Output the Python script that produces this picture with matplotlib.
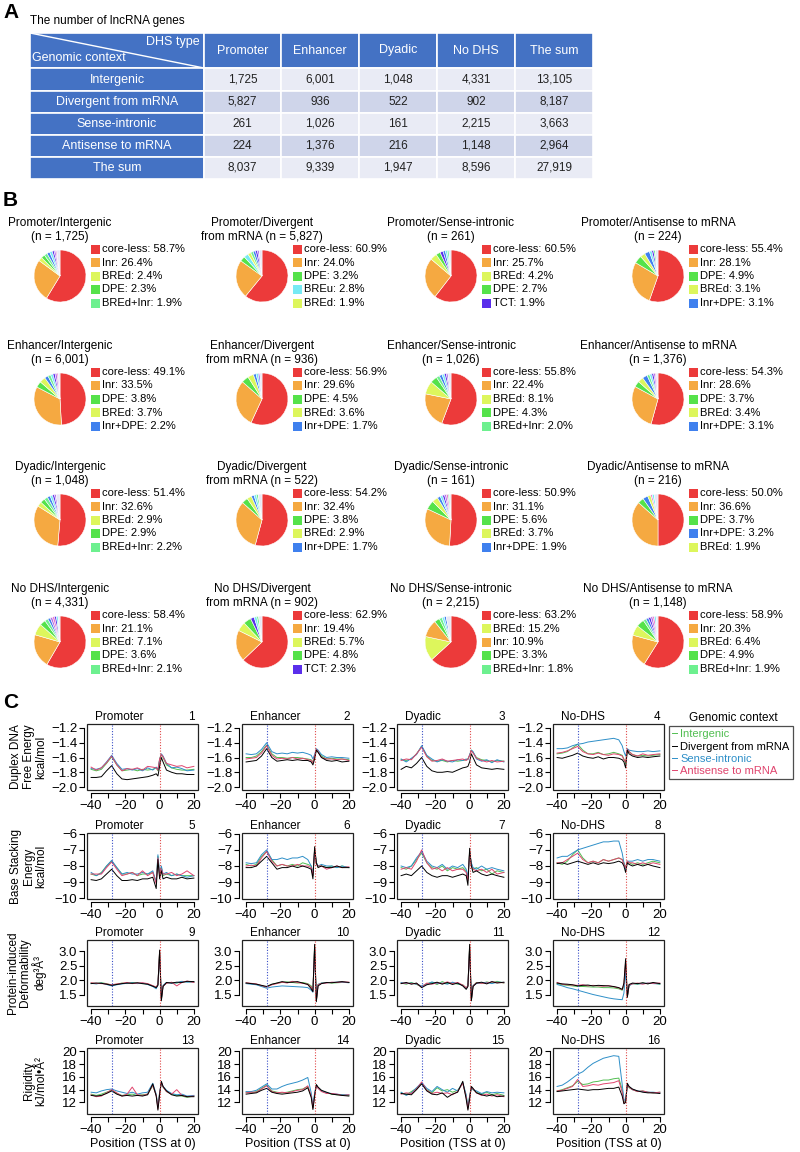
import matplotlib
matplotlib.use('Agg')
import matplotlib.pyplot as plt
from matplotlib.patches import Rectangle

plt.rcParams['font.family'] = ['Liberation Sans', 'DejaVu Sans']

# ---------------- A: lncRNA counts ----------------
dhs_types = ['Promoter', 'Enhancer', 'Dyadic', 'No DHS', 'The sum']
contexts = ['Intergenic', 'Divergent from mRNA', 'Sense-intronic', 'Antisense to mRNA', 'The sum']
counts_promoter = [1725, 5827, 261, 224, 8037]
counts_enhancer = [6001, 936, 1026, 1376, 9339]
counts_dyadic = [1048, 522, 161, 216, 1947]
counts_nodhs = [4331, 902, 2215, 1148, 8596]
counts_sum = [13105, 8187, 3663, 2964, 27919]

# ---------------- B: core promoter element pies ----------------
pie_dhs = ['Promoter', 'Enhancer', 'Dyadic', 'No DHS']
pie_ctx_head = ['Intergenic', 'Divergent', 'Sense-intronic', 'Antisense to mRNA']
pie_ctx_tail = ['', 'from mRNA ', '', '']

pie_top_labels = [
    ['core-less', 'Inr', 'BREd', 'DPE', 'BREd+Inr'],
    ['core-less', 'Inr', 'DPE', 'BREu', 'BREd'],
    ['core-less', 'Inr', 'BREd', 'DPE', 'TCT'],
    ['core-less', 'Inr', 'DPE', 'BREd', 'Inr+DPE'],
    ['core-less', 'Inr', 'DPE', 'BREd', 'Inr+DPE'],
    ['core-less', 'Inr', 'DPE', 'BREd', 'Inr+DPE'],
    ['core-less', 'Inr', 'BREd', 'DPE', 'BREd+Inr'],
    ['core-less', 'Inr', 'DPE', 'BREd', 'Inr+DPE'],
    ['core-less', 'Inr', 'BREd', 'DPE', 'BREd+Inr'],
    ['core-less', 'Inr', 'DPE', 'BREd', 'Inr+DPE'],
    ['core-less', 'Inr', 'DPE', 'BREd', 'Inr+DPE'],
    ['core-less', 'Inr', 'DPE', 'Inr+DPE', 'BREd'],
    ['core-less', 'Inr', 'BREd', 'DPE', 'BREd+Inr'],
    ['core-less', 'Inr', 'BREd', 'DPE', 'TCT'],
    ['core-less', 'BREd', 'Inr', 'DPE', 'BREd+Inr'],
    ['core-less', 'Inr', 'BREd', 'DPE', 'BREd+Inr'],
]
pie_top_values = [
    [58.7, 26.4, 2.4, 2.3, 1.9],
    [60.9, 24.0, 3.2, 2.8, 1.9],
    [60.5, 25.7, 4.2, 2.7, 1.9],
    [55.4, 28.1, 4.9, 3.1, 3.1],
    [49.1, 33.5, 3.8, 3.7, 2.2],
    [56.9, 29.6, 4.5, 3.6, 1.7],
    [55.8, 22.4, 8.1, 4.3, 2.0],
    [54.3, 28.6, 3.7, 3.4, 3.1],
    [51.4, 32.6, 2.9, 2.9, 2.2],
    [54.2, 32.4, 3.8, 2.9, 1.7],
    [50.9, 31.1, 5.6, 3.7, 1.9],
    [50.0, 36.6, 3.7, 3.2, 1.9],
    [58.4, 21.1, 7.1, 3.6, 2.1],
    [62.9, 19.4, 5.7, 4.8, 2.3],
    [63.2, 15.2, 10.9, 3.3, 1.8],
    [58.9, 20.3, 6.4, 4.9, 1.9],
]
# small unlabelled slices (estimated)
pie_rest_labels = [
    ['Inr+DPE', 'BREu', 'TCT', 'BREu+Inr', 'TATA', 'other'],
    ['BREd+Inr', 'Inr+DPE', 'TCT', 'BREu+Inr', 'other'],
    ['Inr+DPE', 'BREu', 'BREd+Inr', 'other'],
    ['BREu', 'TCT', 'BREd+Inr', 'other'],
    ['BREd+Inr', 'BREu', 'TCT', 'BREu+Inr', 'TATA', 'other'],
    ['BREu', 'TCT', 'other'],
    ['Inr+DPE', 'BREu', 'TCT', 'BREu+Inr', 'other'],
    ['BREd+Inr', 'BREu', 'TCT', 'BREu+Inr', 'TATA', 'other'],
    ['Inr+DPE', 'BREu', 'TCT', 'BREu+Inr', 'other'],
    ['BREu', 'BREd+Inr', 'other'],
    ['BREu', 'TCT', 'BREu+Inr', 'TATA', 'BREd+Inr', 'other'],
    ['TATA', 'BREu', 'other'],
    ['Inr+DPE', 'BREu+Inr', 'TATA', 'TCT', 'BREu', 'other'],
    ['BREu', 'BREd+Inr', 'other'],
    ['BREu', 'Inr+DPE', 'other'],
    ['Inr+DPE', 'TCT', 'BREu+Inr', 'TATA', 'BREu', 'other'],
]
pie_rest_values = [
    [1.8, 1.6, 1.2, 1.0, 0.7, 2.0],
    [1.6, 1.5, 1.3, 1.0, 1.8],
    [1.5, 1.2, 1.0, 1.3],
    [1.5, 1.2, 1.0, 1.7],
    [1.8, 1.5, 1.3, 1.2, 0.9, 1.0],
    [1.4, 0.9, 1.4],
    [1.8, 1.5, 1.2, 1.0, 1.9],
    [1.6, 1.4, 1.2, 1.0, 0.8, 0.9],
    [1.8, 1.5, 1.3, 1.0, 2.4],
    [1.5, 1.1, 2.4],
    [1.5, 1.3, 1.2, 1.0, 0.9, 0.9],
    [1.0, 1.2, 2.4],
    [1.6, 1.4, 1.3, 1.2, 1.0, 1.2],
    [1.6, 1.2, 2.1],
    [1.4, 1.2, 3.0],
    [1.6, 1.4, 1.3, 1.1, 1.0, 1.2],
]
element_colors = {
    'core-less': '#EC3A3A', 'Inr': '#F5A941', 'BREd': '#DDF65C', 'DPE': '#55E24A',
    'BREd+Inr': '#6DF08F', 'BREu': '#76EAF4', 'TCT': '#5A2EEB', 'Inr+DPE': '#3F80EE',
    'BREu+Inr': '#B46CE6', 'TATA': '#E86FC8', 'other': '#E8E6F4',
}

# ---------------- C: DNA physical property profiles ----------------
pos = [-40, -37, -34, -31, -28, -25, -22, -19, -16, -13, -10, -7, -4, -2, -1, 0, 1, 2, 4, 7, 10, 13, 16, 20]
series_names = ['Intergenic', 'Divergent from mRNA', 'Sense-intronic', 'Antisense to mRNA']
series_colors = ['#52BE52', '#000000', '#2E8FC8', '#E0456E']
draw_order = [0, 2, 3, 1]  # black drawn last, on top
panel_names = ['Promoter', 'Enhancer', 'Dyadic', 'No-DHS']

# each block: intergenic, divergent, sense-intronic, antisense
free_promoter = [
    [-1.76, -1.78, -1.76, -1.68, -1.59, -1.70, -1.78, -1.77, -1.76, -1.78, -1.76, -1.77, -1.76, -1.74, -1.78, -1.62, -1.56, -1.60, -1.70, -1.74, -1.76, -1.77, -1.77, -1.76],
    [-1.87, -1.87, -1.86, -1.78, -1.71, -1.82, -1.89, -1.90, -1.89, -1.88, -1.87, -1.86, -1.84, -1.82, -1.85, -1.72, -1.60, -1.66, -1.77, -1.80, -1.82, -1.82, -1.83, -1.83],
    [-1.75, -1.76, -1.74, -1.66, -1.57, -1.68, -1.76, -1.75, -1.77, -1.75, -1.78, -1.74, -1.77, -1.73, -1.76, -1.63, -1.55, -1.58, -1.68, -1.74, -1.73, -1.75, -1.78, -1.77],
    [-1.73, -1.77, -1.74, -1.67, -1.58, -1.70, -1.78, -1.75, -1.76, -1.74, -1.77, -1.72, -1.73, -1.74, -1.77, -1.62, -1.56, -1.59, -1.68, -1.70, -1.72, -1.71, -1.74, -1.72],
]
free_enhancer = [
    [-1.60, -1.60, -1.58, -1.52, -1.43, -1.55, -1.60, -1.60, -1.61, -1.60, -1.60, -1.61, -1.62, -1.63, -1.66, -1.58, -1.49, -1.52, -1.58, -1.62, -1.61, -1.62, -1.62, -1.63],
    [-1.66, -1.65, -1.64, -1.58, -1.48, -1.60, -1.65, -1.64, -1.63, -1.64, -1.63, -1.64, -1.64, -1.66, -1.70, -1.62, -1.50, -1.53, -1.60, -1.64, -1.65, -1.64, -1.66, -1.65],
    [-1.55, -1.56, -1.55, -1.49, -1.40, -1.52, -1.55, -1.54, -1.55, -1.53, -1.54, -1.53, -1.55, -1.57, -1.62, -1.56, -1.48, -1.50, -1.56, -1.60, -1.59, -1.60, -1.60, -1.61],
    [-1.62, -1.61, -1.60, -1.54, -1.44, -1.57, -1.62, -1.61, -1.62, -1.60, -1.62, -1.61, -1.63, -1.64, -1.67, -1.58, -1.49, -1.52, -1.60, -1.62, -1.62, -1.63, -1.62, -1.64],
]
free_dyadic = [
    [-1.63, -1.64, -1.62, -1.55, -1.45, -1.58, -1.64, -1.65, -1.64, -1.66, -1.64, -1.65, -1.64, -1.63, -1.62, -1.57, -1.50, -1.53, -1.60, -1.63, -1.64, -1.66, -1.64, -1.65],
    [-1.76, -1.72, -1.74, -1.68, -1.60, -1.72, -1.78, -1.80, -1.80, -1.79, -1.80, -1.77, -1.74, -1.73, -1.72, -1.66, -1.55, -1.60, -1.70, -1.74, -1.75, -1.76, -1.75, -1.76],
    [-1.62, -1.66, -1.61, -1.56, -1.44, -1.57, -1.62, -1.66, -1.63, -1.65, -1.66, -1.63, -1.64, -1.62, -1.63, -1.56, -1.50, -1.52, -1.62, -1.65, -1.63, -1.67, -1.63, -1.66],
    [-1.64, -1.62, -1.63, -1.55, -1.46, -1.59, -1.65, -1.64, -1.62, -1.65, -1.64, -1.63, -1.62, -1.64, -1.62, -1.57, -1.51, -1.54, -1.61, -1.64, -1.66, -1.64, -1.66, -1.65],
]
free_nodhs = [
    [-1.55, -1.54, -1.52, -1.47, -1.42, -1.50, -1.55, -1.55, -1.53, -1.56, -1.55, -1.53, -1.55, -1.57, -1.62, -1.68, -1.50, -1.52, -1.56, -1.58, -1.57, -1.58, -1.57, -1.56],
    [-1.60, -1.61, -1.59, -1.57, -1.54, -1.58, -1.60, -1.61, -1.59, -1.62, -1.60, -1.60, -1.61, -1.63, -1.66, -1.74, -1.50, -1.55, -1.58, -1.60, -1.59, -1.60, -1.59, -1.58],
    [-1.48, -1.48, -1.47, -1.44, -1.42, -1.41, -1.39, -1.38, -1.37, -1.36, -1.35, -1.34, -1.36, -1.44, -1.52, -1.58, -1.48, -1.50, -1.51, -1.52, -1.52, -1.51, -1.52, -1.51],
    [-1.54, -1.53, -1.51, -1.48, -1.45, -1.52, -1.55, -1.56, -1.54, -1.56, -1.57, -1.55, -1.56, -1.58, -1.63, -1.66, -1.49, -1.52, -1.56, -1.58, -1.55, -1.57, -1.56, -1.55],
]

stack_promoter = [
    [-8.5, -8.6, -8.4, -8.0, -7.7, -8.1, -8.5, -8.5, -8.4, -8.6, -8.5, -8.5, -8.4, -9.0, -7.4, -8.6, -8.1, -8.6, -8.5, -8.6, -8.5, -8.6, -8.6, -8.6],
    [-8.85, -8.9, -8.8, -8.5, -8.2, -8.6, -8.9, -8.9, -8.85, -8.9, -8.8, -8.8, -8.7, -9.4, -7.6, -8.8, -8.3, -8.8, -8.7, -8.8, -8.8, -8.7, -8.8, -8.75],
    [-8.4, -8.6, -8.45, -8.0, -7.65, -8.1, -8.5, -8.4, -8.5, -8.5, -8.4, -8.5, -8.3, -9.0, -7.3, -8.5, -8.0, -8.5, -8.4, -8.6, -8.5, -8.6, -8.7, -8.6],
    [-8.5, -8.5, -8.5, -8.1, -7.75, -8.2, -8.6, -8.5, -8.4, -8.6, -8.3, -8.6, -8.4, -9.1, -7.5, -8.6, -8.2, -8.5, -8.5, -8.4, -8.6, -8.5, -8.3, -8.6],
]
stack_enhancer = [
    [-7.9, -8.0, -7.9, -7.4, -7.1, -7.6, -8.0, -7.9, -8.0, -7.9, -8.0, -7.8, -7.9, -8.0, -8.6, -7.0, -7.8, -8.0, -8.0, -8.1, -8.0, -8.1, -8.0, -8.1],
    [-8.1, -8.1, -8.0, -7.7, -7.4, -7.8, -8.2, -8.1, -8.1, -8.0, -8.1, -8.0, -8.1, -8.2, -8.8, -6.8, -7.8, -8.1, -8.0, -8.1, -8.1, -8.0, -8.1, -8.1],
    [-7.8, -7.85, -7.8, -7.3, -7.0, -7.6, -7.6, -7.5, -7.6, -7.5, -7.5, -7.4, -7.6, -8.0, -8.5, -7.0, -7.8, -8.0, -7.9, -8.0, -8.0, -8.1, -8.0, -8.1],
    [-8.0, -7.95, -8.0, -7.5, -7.1, -7.7, -8.0, -7.9, -8.0, -8.0, -7.9, -8.0, -8.0, -8.1, -8.6, -7.0, -7.9, -8.0, -8.0, -8.2, -8.1, -8.0, -8.1, -8.05],
]
stack_dyadic = [
    [-8.1, -8.2, -8.0, -7.6, -7.2, -7.8, -8.1, -8.2, -8.0, -8.3, -8.1, -8.2, -8.1, -8.3, -8.8, -7.1, -7.9, -8.2, -8.1, -8.3, -8.2, -8.5, -8.3, -8.4],
    [-8.6, -8.5, -8.6, -8.3, -8.0, -8.4, -8.6, -8.7, -8.6, -8.6, -8.7, -8.6, -8.5, -8.6, -9.2, -6.9, -8.0, -8.4, -8.3, -8.5, -8.6, -8.5, -8.6, -8.7],
    [-8.0, -8.1, -8.0, -7.5, -7.1, -7.7, -8.0, -8.1, -7.9, -8.2, -8.0, -8.1, -7.9, -8.2, -8.7, -7.2, -7.8, -8.1, -8.2, -8.0, -8.2, -8.1, -8.2, -8.3],
    [-8.2, -8.1, -8.2, -7.7, -7.0, -7.8, -8.2, -8.1, -8.3, -8.1, -8.3, -8.2, -8.2, -8.4, -8.9, -7.1, -8.0, -8.2, -8.3, -8.2, -8.4, -8.2, -8.5, -8.4],
]
stack_nodhs = [
    [-7.8, -7.9, -7.7, -7.3, -7.0, -7.5, -7.8, -7.7, -7.8, -7.6, -7.7, -7.6, -7.5, -7.6, -7.8, -8.1, -7.7, -7.8, -7.9, -7.8, -7.9, -7.8, -7.7, -7.8],
    [-7.85, -7.8, -7.9, -7.8, -7.7, -7.8, -7.9, -7.8, -7.9, -7.8, -7.85, -7.8, -7.7, -7.8, -8.0, -8.4, -7.8, -7.9, -8.0, -7.9, -8.0, -7.9, -8.0, -8.1],
    [-7.5, -7.4, -7.4, -7.2, -7.0, -6.9, -6.8, -6.7, -6.6, -6.5, -6.5, -6.45, -6.45, -7.2, -7.8, -8.2, -7.7, -7.7, -7.7, -7.6, -7.7, -7.6, -7.6, -7.7],
    [-7.8, -7.8, -7.6, -7.4, -7.2, -7.6, -7.8, -7.7, -7.8, -7.6, -7.7, -7.6, -7.5, -7.6, -7.9, -8.1, -7.7, -7.8, -7.8, -7.9, -7.8, -7.9, -7.8, -7.9],
]

deform_promoter = [
    [1.90, 1.88, 1.91, 1.88, 1.83, 1.86, 1.90, 1.88, 1.92, 1.89, 1.88, 1.87, 1.80, 1.75, 1.85, 3.00, 1.35, 1.80, 1.90, 1.92, 1.90, 1.94, 1.95, 1.93],
    [1.88, 1.90, 1.89, 1.86, 1.82, 1.85, 1.88, 1.90, 1.89, 1.91, 1.88, 1.86, 1.79, 1.74, 1.82, 3.05, 1.28, 1.78, 1.92, 1.90, 1.93, 1.92, 1.96, 1.95],
    [1.89, 1.87, 1.90, 1.85, 1.80, 1.84, 1.87, 1.89, 1.91, 1.88, 1.90, 1.85, 1.78, 1.70, 1.84, 2.95, 1.32, 1.82, 1.92, 1.89, 1.91, 1.96, 1.93, 1.94],
    [1.91, 1.89, 1.88, 1.87, 1.84, 1.87, 1.89, 1.92, 1.88, 1.90, 1.91, 1.88, 1.81, 1.76, 1.86, 3.02, 1.33, 1.80, 1.89, 1.93, 1.80, 1.92, 1.97, 1.92],
]
deform_enhancer = [
    [1.90, 1.88, 1.85, 1.80, 1.76, 1.85, 1.90, 1.92, 1.94, 1.92, 1.90, 1.92, 1.88, 1.80, 1.65, 3.20, 1.30, 1.85, 1.90, 1.92, 1.90, 1.91, 1.92, 1.92],
    [1.90, 1.88, 1.86, 1.82, 1.78, 1.86, 1.90, 1.95, 1.92, 1.93, 1.95, 1.90, 1.85, 1.70, 1.60, 3.25, 1.25, 1.80, 1.88, 1.92, 1.91, 1.93, 1.95, 1.92],
    [1.88, 1.86, 1.84, 1.78, 1.72, 1.76, 1.78, 1.80, 1.79, 1.78, 1.77, 1.76, 1.74, 1.65, 1.58, 3.10, 1.30, 1.85, 1.90, 1.91, 1.92, 1.93, 1.93, 1.91],
    [1.91, 1.89, 1.87, 1.81, 1.76, 1.84, 1.88, 1.93, 1.90, 1.96, 1.92, 1.89, 1.86, 1.76, 1.62, 3.15, 1.28, 1.84, 1.89, 1.90, 1.93, 1.92, 1.94, 1.93],
]
deform_dyadic = [
    [1.90, 1.86, 1.92, 1.85, 1.78, 1.88, 1.92, 1.85, 1.95, 1.88, 1.91, 1.86, 1.84, 1.72, 1.80, 3.20, 1.30, 1.80, 1.92, 1.88, 1.94, 1.90, 1.96, 1.90],
    [1.88, 1.92, 1.86, 1.90, 1.74, 1.84, 1.88, 1.93, 1.86, 1.92, 1.85, 1.90, 1.80, 1.68, 1.78, 3.25, 1.28, 1.78, 1.90, 1.93, 1.87, 1.95, 1.90, 1.93],
    [1.92, 1.88, 1.90, 1.86, 1.80, 1.86, 1.94, 1.88, 1.90, 1.86, 1.93, 1.88, 1.82, 1.70, 1.82, 3.10, 1.32, 1.82, 1.88, 1.91, 1.92, 1.88, 1.93, 1.92],
    [1.89, 1.90, 1.88, 1.88, 1.76, 1.90, 1.86, 1.91, 1.88, 1.94, 1.88, 1.92, 1.83, 1.74, 1.80, 3.15, 1.30, 1.80, 1.91, 1.89, 1.90, 1.94, 1.92, 1.91],
]
deform_nodhs = [
    [1.88, 1.84, 1.82, 1.80, 1.78, 1.78, 1.77, 1.76, 1.76, 1.74, 1.74, 1.73, 1.70, 1.65, 1.80, 2.55, 1.42, 1.82, 1.88, 1.86, 1.90, 1.88, 1.90, 1.86],
    [1.90, 1.87, 1.86, 1.84, 1.80, 1.82, 1.83, 1.80, 1.82, 1.81, 1.80, 1.78, 1.74, 1.68, 1.90, 2.75, 1.40, 1.85, 1.90, 1.88, 1.91, 1.87, 1.92, 1.88],
    [1.85, 1.80, 1.74, 1.70, 1.65, 1.60, 1.55, 1.50, 1.46, 1.42, 1.38, 1.35, 1.33, 1.32, 1.55, 2.30, 1.45, 1.80, 1.88, 1.87, 1.88, 1.90, 1.88, 1.87],
    [1.92, 1.86, 1.84, 1.83, 1.82, 1.84, 1.80, 1.82, 1.80, 1.79, 1.81, 1.77, 1.73, 1.67, 1.85, 2.65, 1.42, 1.84, 1.87, 1.90, 1.86, 1.90, 1.89, 1.90],
]

rigid_promoter = [
    [13.3, 13.1, 13.3, 13.6, 13.9, 13.4, 13.1, 13.2, 13.3, 13.1, 13.2, 13.3, 14.6, 13.2, 11.2, 13.5, 15.0, 14.4, 13.7, 13.3, 13.1, 13.0, 12.8, 13.0],
    [13.1, 13.0, 13.1, 13.4, 13.8, 13.3, 13.0, 13.1, 13.0, 13.1, 13.0, 13.2, 14.9, 13.0, 10.8, 13.2, 15.3, 14.5, 13.8, 13.2, 13.0, 13.1, 12.9, 12.9],
    [13.6, 13.5, 13.8, 14.0, 14.1, 13.8, 13.6, 13.4, 13.6, 13.3, 13.5, 13.6, 15.0, 13.3, 11.3, 13.6, 15.1, 14.5, 13.9, 13.4, 13.2, 13.3, 13.0, 13.1],
    [13.2, 12.9, 13.0, 13.5, 14.0, 13.5, 13.0, 13.3, 14.4, 13.2, 13.1, 13.3, 14.7, 13.1, 11.0, 13.4, 15.2, 14.4, 13.7, 13.3, 14.0, 13.1, 12.9, 13.0],
]
rigid_enhancer = [
    [13.6, 13.5, 13.7, 14.2, 14.7, 13.8, 13.6, 13.5, 13.6, 13.8, 14.0, 14.1, 14.5, 13.0, 11.2, 13.2, 14.7, 14.3, 13.8, 13.5, 13.3, 13.2, 13.2, 13.1],
    [13.3, 13.4, 13.5, 13.9, 14.2, 13.6, 13.4, 13.3, 13.4, 13.5, 13.6, 13.8, 14.3, 12.8, 10.9, 13.0, 14.8, 14.4, 13.9, 13.6, 13.3, 13.2, 13.1, 13.0],
    [13.7, 13.7, 13.9, 14.4, 14.9, 14.1, 14.1, 14.5, 14.8, 15.0, 15.2, 15.5, 15.9, 13.5, 11.5, 13.5, 14.7, 14.3, 13.8, 13.5, 13.4, 13.3, 13.2, 13.2],
    [13.5, 13.6, 13.6, 14.1, 14.6, 13.7, 13.5, 13.6, 13.5, 13.7, 13.9, 14.0, 14.6, 13.0, 11.1, 13.1, 14.6, 14.2, 13.7, 13.4, 13.4, 13.3, 13.1, 13.2],
]
rigid_dyadic = [
    [13.5, 13.2, 13.7, 14.2, 15.0, 14.0, 13.5, 14.3, 13.8, 14.0, 13.6, 13.9, 15.0, 13.0, 11.2, 13.0, 14.3, 14.0, 13.6, 13.3, 13.6, 13.2, 13.4, 13.1],
    [13.4, 13.3, 13.2, 14.0, 14.9, 13.8, 13.3, 13.2, 13.5, 12.8, 13.3, 13.6, 15.3, 12.5, 10.8, 12.5, 14.5, 14.2, 13.5, 13.2, 13.0, 13.2, 12.9, 13.0],
    [13.6, 13.1, 13.5, 14.3, 15.1, 14.2, 13.7, 14.5, 14.0, 13.6, 14.2, 13.8, 15.1, 13.2, 11.3, 13.0, 14.4, 14.0, 13.8, 13.4, 13.7, 13.5, 13.6, 13.5],
    [13.3, 13.5, 13.4, 14.1, 15.2, 13.9, 13.4, 13.6, 13.4, 13.5, 13.2, 13.7, 15.0, 12.8, 11.0, 12.8, 14.4, 14.1, 13.5, 13.1, 13.3, 13.0, 13.2, 12.9],
]
rigid_nodhs = [
    [13.8, 14.0, 14.3, 14.6, 15.3, 14.8, 14.9, 15.2, 15.3, 15.5, 15.5, 15.7, 15.8, 14.0, 12.0, 12.3, 14.8, 14.3, 14.0, 13.7, 13.8, 13.6, 13.5, 13.6],
    [13.7, 13.8, 13.9, 14.0, 14.1, 14.0, 13.9, 14.0, 14.0, 14.1, 14.2, 14.2, 14.4, 13.0, 11.8, 12.0, 15.0, 14.5, 14.1, 13.8, 13.6, 13.5, 13.5, 13.4],
    [14.5, 14.7, 15.2, 15.8, 16.4, 16.8, 17.5, 18.1, 18.5, 18.9, 19.1, 19.3, 19.2, 14.8, 12.5, 12.2, 14.8, 14.5, 14.0, 13.8, 13.7, 13.6, 13.6, 13.5],
    [13.8, 13.9, 14.2, 14.5, 15.6, 14.5, 14.6, 14.8, 14.7, 14.9, 15.0, 15.1, 15.4, 13.6, 11.9, 12.2, 14.7, 14.4, 14.0, 13.7, 13.8, 13.6, 13.5, 13.6],
]

prop_labels = ['Duplex DNA\nFree Energy\nkcal/mol', 'Base Stacking\nEnergy\nkcal/mol',
               'Protein-induced\nDeformability\ndeg\u00b3\u00c5\u00b3', 'Rigidity\nkJ/mol\u2022\u00c5\u00b2']
prop_data = [
    [free_promoter, free_enhancer, free_dyadic, free_nodhs],
    [stack_promoter, stack_enhancer, stack_dyadic, stack_nodhs],
    [deform_promoter, deform_enhancer, deform_dyadic, deform_nodhs],
    [rigid_promoter, rigid_enhancer, rigid_dyadic, rigid_nodhs],
]
prop_yticks = [[-2.0, -1.8, -1.6, -1.4, -1.2], [-10, -9, -8, -7, -6],
               [1.5, 2.0, 2.5, 3.0], [12, 14, 16, 18, 20]]
prop_ylims = [(-2.04, -1.146), (-10.05, -5.95), (1.1, 3.4), (10.2, 20.5)]

# ---------------------------------------------------------------
W, H = 800, 1152
fig = plt.figure(figsize=(W / 100, H / 100), dpi=100)

# pixel-space canvas for table, pie legends and labels
bg = fig.add_axes([0, 0, 1, 1])
bg.set_xlim(0, W)
bg.set_ylim(H, 0)
bg.axis('off')


def px_axes(left, top, width, height):
    return fig.add_axes([left / W, 1 - (top + height) / H, width / W, height / H])


# panel letters
for letter, y in [('A', 12), ('B', 201), ('C', 702)]:
    bg.text(3, y, letter, fontsize=15, fontweight='bold', va='center', ha='left')

# ---------------- A: table ----------------
bg.text(30, 21, 'The number of lncRNA genes', fontsize=8.5, va='center')
blue = '#4472C4'
light = ['#E9EBF5', '#CFD5EA']
col_edges = [30, 204, 281, 359, 437, 515, 593]
row_edges = [33, 68, 91, 113, 135, 157, 179]
table_cols = [counts_promoter, counts_enhancer, counts_dyadic, counts_nodhs, counts_sum]
tfs = 9

for r in range(len(row_edges) - 1):
    for c in range(len(col_edges) - 1):
        x0, x1 = col_edges[c], col_edges[c + 1]
        y0, y1 = row_edges[r], row_edges[r + 1]
        fc = blue if (r == 0 or c == 0) else light[(r - 1) % 2]
        bg.add_patch(Rectangle((x0, y0), x1 - x0, y1 - y0, facecolor=fc,
                               edgecolor='white', linewidth=1.2))
        xm, ym = (x0 + x1) / 2, (y0 + y1) / 2
        if r == 0 and c > 0:
            bg.text(xm, ym, dhs_types[c - 1], color='white', ha='center', va='center',
                    fontsize=tfs)
        elif r > 0 and c == 0:
            bg.text(xm, ym, contexts[r - 1], color='white', ha='center', va='center',
                    fontsize=tfs)
        elif r > 0:
            bg.text(xm, ym, f'{table_cols[c - 1][r - 1]:,}', color='#222222',
                    ha='center', va='center', fontsize=8.5)

# header corner cell with the diagonal
bg.plot([col_edges[0], col_edges[1]], [row_edges[0], row_edges[1]], color='white', lw=1)
bg.text(col_edges[1] - 4, row_edges[0] + 9, 'DHS type', color='white', ha='right',
        va='center', fontsize=tfs)
bg.text(col_edges[0] + 2, row_edges[1] - 10, 'Genomic context', color='white', ha='left',
        va='center', fontsize=tfs)

# ---------------- B: pies ----------------
pie_cx = [60, 262, 451, 658]
pie_cy = [276, 399, 520, 642]
rad = 26
for i in range(16):
    r, c = divmod(i, 4)
    cx, cy = pie_cx[c], pie_cy[r]
    labels = pie_top_labels[i] + pie_rest_labels[i]
    values = pie_top_values[i] + pie_rest_values[i]
    ax = px_axes(cx - rad * 1.04, cy - rad * 1.04, rad * 2.08, rad * 2.08)
    ax.pie(values, colors=[element_colors[l] for l in labels], startangle=90,
           counterclock=False, wedgeprops=dict(edgecolor='white', linewidth=0.4))
    ax.set_xlim(-1.04, 1.04)
    ax.set_ylim(-1.04, 1.04)
    ax.set_aspect('equal')

    n = table_cols[r][c]
    title = f'{pie_dhs[r]}/{pie_ctx_head[c]}\n{pie_ctx_tail[c]}(n = {n:,})'
    bg.text(cx, cy - 46, title, ha='center', va='center', fontsize=8.5, linespacing=1.15)

    for k, (lab, val) in enumerate(zip(pie_top_labels[i], pie_top_values[i])):
        y = cy - 27 + k * 13.5
        bg.add_patch(Rectangle((cx + 31, y - 4.5), 9, 9, facecolor=element_colors[lab],
                               edgecolor='none'))
        bg.text(cx + 42, y, f'{lab}: {val:.1f}%', va='center', ha='left', fontsize=8)

# ---------------- C: profile panels ----------------
col_left = [87, 242, 397, 553]
row_top = [724, 833, 940, 1048]
pw, ph = 111, 66
handles = []
for r in range(4):
    for c in range(4):
        ax = px_axes(col_left[c], row_top[r], pw, ph)
        lines = [None] * 4
        for j in draw_order:
            ln, = ax.plot(pos, prop_data[r][c][j], color=series_colors[j], lw=0.7,
                          label=series_names[j])
            lines[j] = ln
        if r == 0 and c == 3:
            handles = lines
        ax.axvline(-28, color='#3A4FC8', ls=(0, (1, 1.5)), lw=0.8)
        ax.axvline(0, color='#E04848', ls=(0, (1, 1.5)), lw=0.8)
        ax.set_xlim(-42.4, 22.4)
        ax.set_ylim(*prop_ylims[r])
        ax.set_xticks(range(-40, 21, 10))
        ax.set_xticklabels(['\u221240', '', '\u221220', '', '0', '', '20'])
        ax.set_yticks(prop_yticks[r])
        ax.tick_params(direction='out', length=3.5, width=0.8, labelsize=9.5, pad=1.5)
        for s in ['top', 'right']:
            ax.spines[s].set_visible(False)
        ax.spines['left'].set_position(('outward', 2))
        ax.spines['bottom'].set_position(('outward', 2))
        ax.spines['left'].set_bounds(prop_yticks[r][0], prop_yticks[r][-1])
        ax.spines['bottom'].set_bounds(-40, 20)
        for s in ['left', 'bottom']:
            ax.spines[s].set_linewidth(0.8)
        ax.add_patch(Rectangle((0, 0), 1, 1, transform=ax.transAxes, fill=False,
                               lw=0.9, ec='#222222', clip_on=False))
        ax.text(0.07, 1.06, panel_names[c], transform=ax.transAxes, fontsize=8.5,
                ha='left', va='baseline')
        ax.text(0.97, 1.06, str(r * 4 + c + 1), transform=ax.transAxes, fontsize=8.5,
                ha='right', va='baseline')
        if r == 3:
            ax.set_xlabel('Position (TSS at 0)', fontsize=9, labelpad=2)
    bg.text(47, row_top[r] + ph / 2, prop_labels[r], rotation=90, ha='right', va='center',
            fontsize=8.5, linespacing=1.05, multialignment='center')

leg = fig.legend(handles=handles, loc='upper left', bbox_to_anchor=(669 / W, 1 - 726 / H),
                 borderaxespad=0, frameon=True, fancybox=False, edgecolor='#222222',
                 handlelength=0.4, handletextpad=0.3, labelcolor='linecolor', fontsize=8,
                 borderpad=0.3, labelspacing=0.2)
leg.get_frame().set_linewidth(0.9)
bg.text(733, 718, 'Genomic context', ha='center', va='center', fontsize=8.5)

fig.savefig('out.png', dpi=100)
